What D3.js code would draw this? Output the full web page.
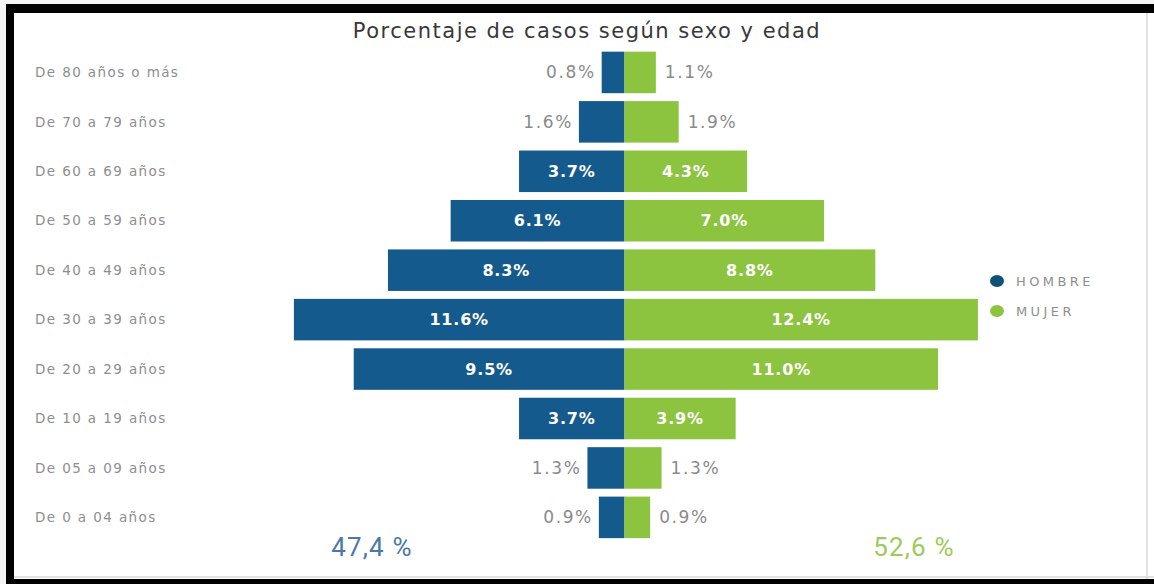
<!DOCTYPE html>
<html>
<head>
<meta charset="utf-8">
<script src="https://cdn.jsdelivr.net/npm/d3@7"></script>
<style>
  body { margin: 0; background: #fff; }
  svg { display: block; }
</style>
</head>
<body>
<div id="chart"></div>
<script>
// age groups, top to bottom
const ageGroups = ["De 80 años o más", "De 70 a 79 años", "De 60 a 69 años", "De 50 a 59 años",
  "De 40 a 49 años", "De 30 a 39 años", "De 20 a 29 años", "De 10 a 19 años",
  "De 05 a 09 años", "De 0 a 04 años"];
const hombre = [0.8, 1.6, 3.7, 6.1, 8.3, 11.6, 9.5, 3.7, 1.3, 0.9];
const mujer = [1.1, 1.9, 4.3, 7.0, 8.8, 12.4, 11.0, 3.9, 1.3, 0.9];
const seriesNames = ["HOMBRE", "MUJER"];
const totals = ["47,4 %", "52,6 %"];

const W = 1154, H = 584;
const blue = "#155a8c", green = "#8cc43f";
const font = "'DejaVu Sans', sans-serif";
const narrow = "'Liberation Sans Narrow', 'Roboto', sans-serif";

let svg = d3.select("#chart").append("svg")
  .attr("width", W)
  .attr("height", H);

// frame
svg.append("rect").attr("x", 0).attr("y", 0).attr("width", W).attr("height", H).attr("fill", "#f4f4f4");
svg.append("rect").attr("x", 6).attr("y", 4).attr("width", W - 6).attr("height", H - 4).attr("fill", "#000");
svg.append("rect").attr("x", 14).attr("y", 13).attr("width", W - 14).attr("height", 566).attr("fill", "#fff");
svg.append("line")
  .attr("x1", 1147).attr("y1", 13).attr("x2", 1147).attr("y2", 579)
  .attr("stroke", "#d8d8d8").attr("stroke-width", 1.5);
svg.append("line")
  .attr("x1", 14).attr("y1", 577).attr("x2", 1154).attr("y2", 577)
  .attr("stroke", "#d8d8d8").attr("stroke-width", 1.5);

// title
svg.append("text")
  .attr("x", 587).attr("y", 38)
  .attr("text-anchor", "middle")
  .attr("font-family", font)
  .attr("font-size", 21)
  .attr("letter-spacing", 1.5)
  .attr("fill", "#383838")
  .text("Porcentaje de casos según sexo y edad");

// scales
const center = 624.5;
let y = d3.scaleBand().domain(ageGroups).range([47.7, 542.1])
  .paddingInner(0.16).paddingOuter(0.08);
let xL = d3.scaleLinear().domain([0, 13]).range([center, center - 370.5]);
let xR = d3.scaleLinear().domain([0, 13]).range([center, center + 370.5]);

// category labels
svg.append("g").selectAll("text")
  .data(ageGroups)
  .join("text")
  .attr("x", 35)
  .attr("y", d => y(d) + y.bandwidth() / 2)
  .attr("dy", "0.35em")
  .attr("font-family", font)
  .attr("font-size", 13.5)
  .attr("letter-spacing", 1.4)
  .attr("fill", "#8e8e8e")
  .text(d => d);

const inside = v => v >= 3;
const fmt = v => v.toFixed(1) + "%";

// hombre bars
let gH = svg.append("g").attr("id", "hombre");
gH.selectAll("rect")
  .data(hombre)
  .join("rect")
  .attr("x", d => xL(d))
  .attr("y", (d, i) => y(ageGroups[i]))
  .attr("width", d => xL(0) - xL(d))
  .attr("height", y.bandwidth())
  .attr("fill", blue);
gH.selectAll("text")
  .data(hombre)
  .join("text")
  .attr("x", d => inside(d) ? (xL(d) + xL(0)) / 2 : xL(d) - 6)
  .attr("y", (d, i) => y(ageGroups[i]) + y.bandwidth() / 2)
  .attr("dy", "0.35em")
  .attr("text-anchor", d => inside(d) ? "middle" : "end")
  .attr("font-family", font)
  .attr("font-size", d => inside(d) ? 16 : 17)
  .attr("letter-spacing", d => inside(d) ? 0.8 : 1.6)
  .attr("font-weight", d => inside(d) ? "bold" : "normal")
  .attr("fill", d => inside(d) ? "#fff" : "#8a8a8a")
  .text(fmt);

// mujer bars
let gM = svg.append("g").attr("id", "mujer");
gM.selectAll("rect")
  .data(mujer)
  .join("rect")
  .attr("x", xR(0))
  .attr("y", (d, i) => y(ageGroups[i]))
  .attr("width", d => xR(d) - xR(0))
  .attr("height", y.bandwidth())
  .attr("fill", green);
gM.selectAll("text")
  .data(mujer)
  .join("text")
  .attr("x", d => inside(d) ? (xR(d) + xR(0)) / 2 : xR(d) + 9)
  .attr("y", (d, i) => y(ageGroups[i]) + y.bandwidth() / 2)
  .attr("dy", "0.35em")
  .attr("text-anchor", d => inside(d) ? "middle" : "start")
  .attr("font-family", font)
  .attr("font-size", d => inside(d) ? 16 : 17)
  .attr("letter-spacing", d => inside(d) ? 0.8 : 1.6)
  .attr("font-weight", d => inside(d) ? "bold" : "normal")
  .attr("fill", d => inside(d) ? "#fff" : "#8a8a8a")
  .text(fmt);

// legend
let legend = svg.append("g").attr("transform", "translate(997,281)");
seriesNames.forEach((s, i) => {
  legend.append("ellipse")
    .attr("cx", 0).attr("cy", i * 30)
    .attr("rx", 7).attr("ry", 6)
    .attr("fill", i === 0 ? "#0f4f78" : green);
  legend.append("text")
    .attr("x", 19).attr("y", i * 30)
    .attr("dy", "0.35em")
    .attr("font-family", font)
    .attr("font-size", 13)
    .attr("letter-spacing", 3.4)
    .attr("fill", "#8e8e8e")
    .text(s);
});

// totals
svg.append("text")
  .attr("x", 372).attr("y", 556)
  .attr("text-anchor", "middle")
  .attr("font-family", narrow)
  .attr("font-size", 26)
  .attr("letter-spacing", 1.2)
  .attr("fill", "#4a78a8")
  .text(totals[0]);
svg.append("text")
  .attr("x", 914).attr("y", 556)
  .attr("text-anchor", "middle")
  .attr("font-family", narrow)
  .attr("font-size", 26)
  .attr("letter-spacing", 1.2)
  .attr("fill", "#9ccb5a")
  .text(totals[1]);
</script>
</body>
</html>
